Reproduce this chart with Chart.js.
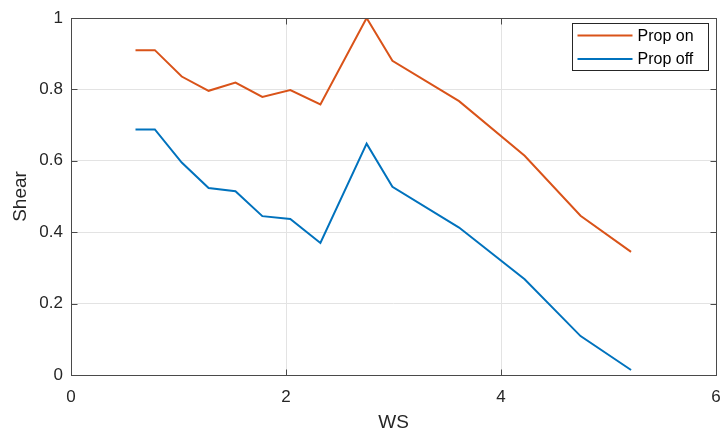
<!DOCTYPE html>
<html>
<head>
<meta charset="utf-8">
<script src="https://cdn.jsdelivr.net/npm/chart.js@4"></script>
<style>
  html, body { margin: 0; padding: 0; background: #fff; }
  #wrap { width: 725px; height: 441px; }
</style>
</head>
<body>
<div id="wrap"><canvas id="chart"></canvas></div>
<script>
// wind speed vs shear, with and without the propeller running
const ws = [0.60, 0.78, 1.03, 1.28, 1.53, 1.78, 2.04, 2.32, 2.75, 2.99, 3.61, 4.22, 4.74, 5.21];
const propOn = [0.91, 0.91, 0.836, 0.796, 0.819, 0.779, 0.798, 0.758, 1.0, 0.88, 0.767, 0.614, 0.446, 0.345];
const propOff = [0.688, 0.688, 0.595, 0.524, 0.515, 0.445, 0.437, 0.37, 0.648, 0.527, 0.413, 0.268, 0.109, 0.014];
const seriesNames = ["Prop on", "Prop off"];
const xTicks = [0, 2, 4, 6];
const yTicks = [0, 0.2, 0.4, 0.6, 0.8, 1];

const FONT = "'Liberation Sans', Arial, Helvetica, sans-serif";
const TEXT = "#262626";
const EDGE = "#4a4a4a";

function pts(ys) {
  return ws.map((x, i) => ({ x: x, y: ys[i] }));
}

// box around the plot, inward ticks on all four sides, legend in the corner
const matlabFrame = {
  id: "matlabFrame",
  afterDraw(chart) {
    const ctx = chart.ctx;
    const a = chart.chartArea;
    const xs = chart.scales.x;
    const ys = chart.scales.y;
    const L = Math.round(a.left) + 0.5, R = Math.round(a.right) + 0.5;
    const T = Math.round(a.top) + 0.5, B = Math.round(a.bottom) + 0.5;
    const tl = 6;
    ctx.save();
    ctx.strokeStyle = EDGE;
    ctx.lineWidth = 1;
    ctx.strokeRect(L, T, R - L, B - T);
    ctx.beginPath();
    xTicks.forEach(v => {
      const px = Math.round(xs.getPixelForValue(v)) + 0.5;
      ctx.moveTo(px, B); ctx.lineTo(px, B - tl);
      ctx.moveTo(px, T); ctx.lineTo(px, T + tl);
    });
    yTicks.forEach(v => {
      const py = Math.round(ys.getPixelForValue(v)) + 0.5;
      ctx.moveTo(L, py); ctx.lineTo(L + tl, py);
      ctx.moveTo(R, py); ctx.lineTo(R - tl, py);
    });
    ctx.stroke();

    // legend box
    const bx = 572.5, by = 23.5, bw = 136, bh = 47;
    ctx.fillStyle = "#fff";
    ctx.fillRect(bx, by, bw, bh);
    ctx.strokeStyle = "#262626";
    ctx.strokeRect(bx, by, bw, bh);
    ctx.font = "16px " + FONT;
    ctx.textBaseline = "middle";
    chart.data.datasets.forEach((ds, i) => {
      const cy = by + 12 + i * 23.5;
      ctx.strokeStyle = ds.borderColor;
      ctx.lineWidth = 2;
      ctx.beginPath();
      ctx.moveTo(bx + 5, cy);
      ctx.lineTo(bx + 60, cy);
      ctx.stroke();
      ctx.fillStyle = "#000";
      ctx.fillText(ds.label, bx + 65, cy + 1);
    });
    ctx.restore();
  }
};

new Chart(document.getElementById("chart"), {
  type: "line",
  data: {
    datasets: [
      {
        label: seriesNames[0],
        data: pts(propOn),
        borderColor: "#D95319",
        borderWidth: 2,
        pointRadius: 0,
        tension: 0,
      },
      {
        label: seriesNames[1],
        data: pts(propOff),
        borderColor: "#0072BD",
        borderWidth: 2,
        pointRadius: 0,
        tension: 0,
      },
    ],
  },
  options: {
    responsive: true,
    maintainAspectRatio: false,
    animation: false,
    layout: { padding: { top: 18, right: 9, left: 0, bottom: 0 } },
    plugins: {
      legend: { display: false },
      tooltip: { enabled: false },
    },
    scales: {
      x: {
        type: "linear",
        min: 0,
        max: 6,
        afterBuildTicks: (s) => { s.ticks = xTicks.map(v => ({ value: v })); },
        afterFit: (s) => { s.height = 66; s.paddingLeft = 0; s.paddingRight = 0; },
        border: { display: false },
        grid: { color: "#e3e3e3", tickLength: 0, drawTicks: false },
        ticks: { color: TEXT, font: { family: FONT, size: 17 }, padding: 12, maxRotation: 0 },
        title: {
          display: true,
          text: "WS",
          color: TEXT,
          font: { family: FONT, size: 19 },
          padding: { top: 0, bottom: 7 },
        },
      },
      y: {
        min: 0,
        max: 1,
        afterBuildTicks: (s) => { s.ticks = yTicks.map(v => ({ value: v })); },
        afterFit: (s) => { s.width = 71; s.paddingTop = 0; s.paddingBottom = 0; },
        border: { display: false },
        grid: { color: "#e3e3e3", tickLength: 0, drawTicks: false },
        ticks: {
          color: TEXT,
          font: { family: FONT, size: 17 },
          padding: 8,
          callback: (v) => String(Number(v.toFixed(1))),
        },
        title: {
          display: true,
          text: "Shear",
          color: TEXT,
          font: { family: FONT, size: 19 },
          padding: { top: 9, bottom: 0 },
        },
      },
    },
  },
  plugins: [matlabFrame],
});
</script>
</body>
</html>
